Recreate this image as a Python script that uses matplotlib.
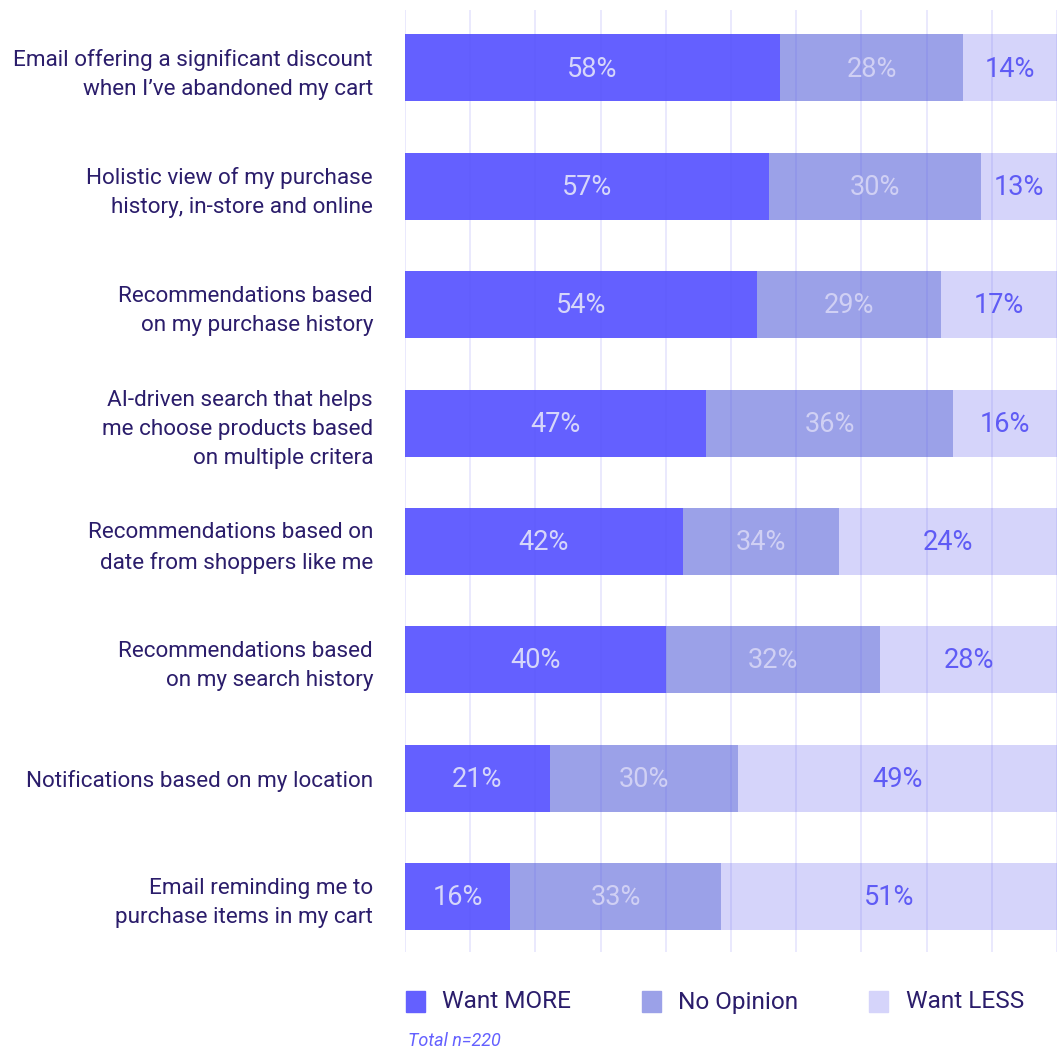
import matplotlib
matplotlib.use("Agg")
import matplotlib.pyplot as plt
from matplotlib.patches import Rectangle
import numpy as np

categories = [
    "Email offering a significant discount\nwhen I\u2019ve abandoned my cart",
    "Holistic view of my purchase\nhistory, in-store and online",
    "Recommendations based\non my purchase history",
    "AI-driven search that helps\nme choose products based\non multiple critera",
    "Recommendations based on\ndate from shoppers like me",
    "Recommendations based\non my search history",
    "Notifications based on my location",
    "Email reminding me to\npurchase items in my cart",
]
# segment widths as drawn (%)
want_more = [57.5, 55.8, 54.0, 46.2, 42.6, 40.0, 22.2, 16.1]
no_opinion = [28.1, 32.5, 28.2, 37.9, 24.0, 32.9, 28.9, 32.4]
want_less = [14.4, 11.7, 17.8, 15.9, 33.4, 27.1, 48.9, 51.5]
# printed labels
labels_more = ["58%", "57%", "54%", "47%", "42%", "40%", "21%", "16%"]
labels_noop = ["28%", "30%", "29%", "36%", "34%", "32%", "30%", "33%"]
labels_less = ["14%", "13%", "17%", "16%", "24%", "28%", "49%", "51%"]
series_names = ["Want MORE", "No Opinion", "Want LESS"]
x_ticks = list(range(0, 101, 10))

FONT = "Roboto"
C_DARK = "#6460FF"
C_MID = "#9BA1E8"
C_LIGHT = "#D5D4FA"
TXT = "#2B1D6B"

W, H = 1061, 1049
fig = plt.figure(figsize=(W / 100, H / 100), dpi=100)
ax = fig.add_axes([405 / W, (H - 952) / H, 652 / W, 942 / H])

y = np.arange(len(categories))
bh = 0.566
series = [want_more, no_opinion, want_less]
lab = [labels_more, labels_noop, labels_less]
cols = [C_DARK, C_MID, C_LIGHT]
tcols = ["#D6D6FA", "#D0D0F4", "#5F5BF5"]
left = np.zeros(len(categories))
for vals, labs, c, tc in zip(series, lab, cols, tcols):
    vals = np.array(vals)
    ax.barh(y, vals, left=left, height=bh, color=c, zorder=2, linewidth=0)
    for yi, l, v, t in zip(y, left, vals, labs):
        ax.text(l + v / 2, yi + 0.01, t, ha="center", va="center", color=tc,
                fontsize=19.5, family=FONT, zorder=4)
    left = left + vals

for xv in x_ticks:
    ax.axvline(xv, color="#5A55F0", alpha=0.13, lw=1.4, zorder=3)

ax.set_xlim(0, 100)
ax.set_ylim(7.47, -0.49)
ax.set_xticks([])
ax.set_yticks(y)
ax.set_yticklabels(categories, family=FONT, fontsize=16.2, color=TXT,
                   linespacing=1.5)
ax.tick_params(axis="y", length=0, pad=23)
for s in ax.spines.values():
    s.set_visible(False)

# legend
sq_x = [406, 642, 869]
tx_x = [442, 678, 906]
for name, c, sx, tx in zip(series_names, cols, sq_x, tx_x):
    fig.patches.append(Rectangle((sx / W, 1 - 1012 / H), 19 / W, 21 / H,
                                 transform=fig.transFigure, color=c,
                                 figure=fig))
    fig.text(tx / W, 1 - 1002 / H, name, ha="left", va="center",
             fontsize=17.6, family=FONT, color=TXT)

fig.text(408 / W, 1 - 1041 / H, "Total n=220", ha="left", va="center",
         fontsize=13, family=FONT, style="italic", color=C_DARK)

fig.savefig("out.png", dpi=100)
